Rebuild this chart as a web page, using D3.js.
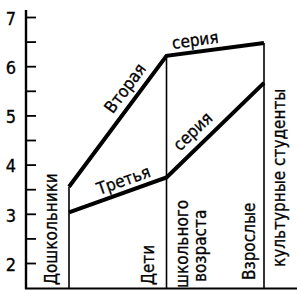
<!DOCTYPE html>
<html>
<head>
<meta charset="utf-8">
<script src="https://cdn.jsdelivr.net/npm/d3@7"></script>
<style>
  body { margin: 0; background: #fff; }
  svg { display: block; }
  text { font-family: "DejaVu Sans Condensed", "DejaVu Sans", sans-serif; fill: #000; stroke: #000; stroke-width: 0.3px; }
</style>
</head>
<body>
<svg id="chart"></svg>
<script>
// groups along the x axis
let categories = ['Дошкольники', 'Дети школьного возраста', 'Взрослые культурные студенты'];
// label lines left / right of each group line
let labelsLeft = [['Дошкольники'], ['Дети'], ['Взрослые']];
let labelsRight = [[], ['школьного', 'возраста'], ['культурные студенты']];

let secondSeries = [3.55, 6.21, 6.47];
let thirdSeries = [3.03, 3.74, 5.66];

let yTicks = [2, 2.5, 3, 3.5, 4, 4.5, 5, 5.5, 6, 6.5, 7];

let width = 297;
let height = 290;

let svg = d3.select('#chart').attr('width', width).attr('height', height);

let xScale = d3.scalePoint().domain(categories).range([69, 264]);
let yScale = d3.scaleLinear().domain([2, 7]).range([263, 17]);

let axisX = 26;
let baseY = 289;

// left axis
svg.append('line')
   .attr('x1', axisX).attr('x2', axisX)
   .attr('y1', 10).attr('y2', baseY)
   .attr('stroke', '#000').attr('stroke-width', 2.4);

let yAxis = d3.axisLeft(yScale)
   .tickValues(yTicks)
   .tickSize(-10)
   .tickPadding(10)
   .tickFormat(d => Number.isInteger(d) ? d : '');

let gy = svg.append('g')
   .attr('transform', 'translate(' + axisX + ',0)')
   .call(yAxis);
gy.select('.domain').remove();
gy.selectAll('.tick line').attr('stroke', '#000').attr('stroke-width', 1.8);
gy.selectAll('.tick text')
  .style('font-family', '"DejaVu Sans Condensed", "DejaVu Sans", sans-serif')
  .style('font-size', '18px')
  .attr('dy', '0.4em');

// bottom line
svg.append('line')
   .attr('x1', axisX - 1).attr('x2', width)
   .attr('y1', baseY - 0.5).attr('y2', baseY - 0.5)
   .attr('stroke', '#000').attr('stroke-width', 2);

// vertical group lines up to the top series
svg.selectAll('.group')
   .data(categories)
   .enter()
   .append('line')
   .attr('class', 'group')
   .attr('x1', d => xScale(d)).attr('x2', d => xScale(d))
   .attr('y1', (d, i) => yScale(Math.max(secondSeries[i], thirdSeries[i])))
   .attr('y2', baseY)
   .attr('stroke', '#000').attr('stroke-width', 1.6);

let line = d3.line()
   .x((d, i) => xScale(categories[i]))
   .y(d => yScale(d));

[secondSeries, thirdSeries].forEach(s => {
  svg.append('path')
     .attr('d', line(s))
     .attr('fill', 'none')
     .attr('stroke', '#000')
     .attr('stroke-width', 4)
     .attr('stroke-linejoin', 'miter');
});

// series names written along the lines
let seriesLabel = (series, seg, t, off, txt) => {
  let x0 = xScale(categories[seg]), y0 = yScale(series[seg]);
  let x1 = xScale(categories[seg + 1]), y1 = yScale(series[seg + 1]);
  let dx = x1 - x0, dy = y1 - y0, len = Math.hypot(dx, dy);
  let nx = dy / len, ny = -dx / len; // normal pointing up
  let px = x0 + dx * t + nx * off, py = y0 + dy * t + ny * off;
  let ang = Math.atan2(dy, dx) * 180 / Math.PI;
  svg.append('text')
     .attr('transform', 'translate(' + px + ',' + py + ') rotate(' + ang + ')')
     .attr('text-anchor', 'middle')
     .attr('dy', '0.35em')
     .style('font-size', '17px')
     .text(txt);
};
seriesLabel(secondSeries, 0, 0.69, 14, 'Вторая');
seriesLabel(secondSeries, 1, 0.31, 12, 'серия');
seriesLabel(thirdSeries, 0, 0.6, 12, 'Третья');
seriesLabel(thirdSeries, 1, 0.375, 15, 'серия');

// group labels, rotated
let leftOff = [-12, -13, -9];
let leftStart = [285, 285, 280];
let rightOff = [[], [21, 39], [21]];
let rightStart = [[], [288, 282], [267]];

categories.forEach((c, i) => {
  let x = xScale(c);
  labelsLeft[i].forEach(txt => {
    svg.append('text')
       .attr('transform', 'translate(' + (x + leftOff[i]) + ',' + leftStart[i] + ') rotate(-90)')
       .style('font-size', '17px')
       .text(txt);
  });
  labelsRight[i].forEach((txt, j) => {
    svg.append('text')
       .attr('transform', 'translate(' + (x + rightOff[i][j]) + ',' + rightStart[i][j] + ') rotate(-90)')
       .style('font-size', '17px')
       .text(txt);
  });
});
</script>
</body>
</html>
